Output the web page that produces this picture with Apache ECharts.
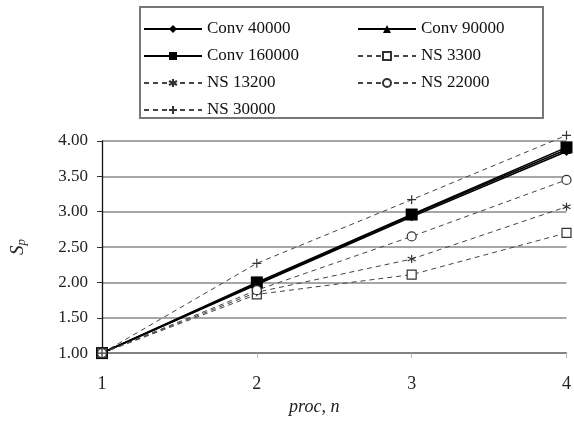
<!DOCTYPE html>
<html>
<head>
<meta charset="utf-8">
<script src="https://cdn.jsdelivr.net/npm/echarts@6/dist/echarts.min.js"></script>
<style>
  html, body { margin: 0; padding: 0; background: #fff; }
  #chart { width: 574px; height: 421px; }
</style>
</head>
<body>
<div id="chart"></div>
<script>
// processors on the x axis
var procs = [1, 2, 3, 4];
// speedup values
var conv40000  = [1.00, 1.97, 2.93, 3.85];
var conv90000  = [1.00, 1.98, 2.95, 3.88];
var conv160000 = [1.00, 2.00, 2.96, 3.91];
var ns3300     = [1.00, 1.83, 2.11, 2.70];
var ns13200    = [1.00, 1.86, 2.33, 3.07];
var ns22000    = [1.00, 1.89, 2.65, 3.45];
var ns30000    = [1.00, 2.27, 3.17, 4.08];
var yTicks = [1.00, 1.50, 2.00, 2.50, 3.00, 3.50, 4.00];

var leftNames = ['Conv 40000', 'Conv 160000', 'NS 13200', 'NS 30000'];
var rightNames = ['Conv 90000', 'NS 3300', 'NS 22000'];

var font = '"Liberation Serif", "DejaVu Serif", serif';

function pairs(vals) {
  return procs.map(function (p, i) { return [p, vals[i]]; });
}

function mkSeries(name, vals, symbol, size, dashed) {
  return {
    name: name,
    type: 'line',
    data: pairs(vals),
    symbol: symbol,
    symbolSize: size,
    clip: false,
    lineStyle: {
      color: dashed ? '#444' : '#000',
      width: dashed ? 1 : 1.6,
      type: dashed ? [5, 4] : 'solid'
    },
    itemStyle: {
      color: dashed ? '#fff' : '#000',
      borderColor: dashed ? '#333' : '#000',
      borderWidth: dashed ? 1.2 : 0
    },
    emphasis: { disabled: true }
  };
}

var asterisk = 'path://M0,-1L0,1M-0.87,-0.5L0.87,0.5M-0.87,0.5L0.87,-0.5';
var plus = 'path://M-1,0L1,0M0,-1L0,1';

var myChart = echarts.init(document.getElementById('chart'));

var legendBase = {
  orient: 'vertical',
  top: 15,
  itemWidth: 58,
  itemHeight: 10,
  itemGap: 9,
  textStyle: { fontFamily: font, fontSize: 17, color: '#111', lineHeight: 18 },
  selectedMode: false
};

var option = {
  backgroundColor: '#fff',
  animation: false,
  graphic: [{
    type: 'rect',
    shape: { x: 140, y: 7, width: 403, height: 111 },
    style: { fill: 'none', stroke: '#777', lineWidth: 2 },
    z: 100
  }],
  legend: [
    Object.assign({}, legendBase, { left: 138, data: leftNames }),
    Object.assign({}, legendBase, { left: 352, data: rightNames })
  ],
  grid: { left: 102, right: 2, top: 141, bottom: 55 },
  xAxis: {
    type: 'value',
    min: 1,
    max: 4,
    interval: 1,
    name: 'proc, n',
    nameLocation: 'middle',
    nameGap: 38,
    nameTextStyle: { fontFamily: font, fontSize: 18, fontStyle: 'italic', color: '#222', padding: [0, 0, 0, -40] },
    axisLine: { show: true, lineStyle: { color: '#777', width: 1.5 } },
    axisTick: { show: true, length: 5, lineStyle: { color: '#bbb' } },
    axisLabel: { fontFamily: font, fontSize: 18, color: '#222', margin: 22 },
    splitLine: { show: false }
  },
  yAxis: {
    type: 'value',
    min: yTicks[0],
    max: yTicks[yTicks.length - 1],
    interval: 0.5,
    name: '{s|S}{p|p}',
    nameLocation: 'middle',
    nameRotate: 90,
    nameGap: 74,
    nameTextStyle: {
      rich: {
        s: { fontFamily: font, fontSize: 19, fontStyle: 'italic', color: '#222' },
        p: { fontFamily: font, fontSize: 13, fontStyle: 'italic', color: '#222', padding: [8, 0, 0, 0] }
      }
    },
    axisLine: { show: true, lineStyle: { color: '#111', width: 1.3 } },
    axisTick: { show: true, length: 5, lineStyle: { color: '#333' } },
    axisLabel: {
      fontFamily: font, fontSize: 17, color: '#222', margin: 14,
      formatter: function (v) { return v.toFixed(2); }
    },
    splitLine: { show: true, lineStyle: { color: '#888', width: 1.6 } }
  },
  series: [
    mkSeries('Conv 40000', conv40000, 'diamond', 9, false),
    mkSeries('Conv 90000', conv90000, 'triangle', 9, false),
    mkSeries('Conv 160000', conv160000, 'rect', 12, false),
    mkSeries('NS 3300', ns3300, 'rect', 9, true),
    mkSeries('NS 13200', ns13200, asterisk, 8, true),
    mkSeries('NS 22000', ns22000, 'circle', 9, true),
    mkSeries('NS 30000', ns30000, plus, 9, true)
  ]
};

myChart.setOption(option);
</script>
</body>
</html>
